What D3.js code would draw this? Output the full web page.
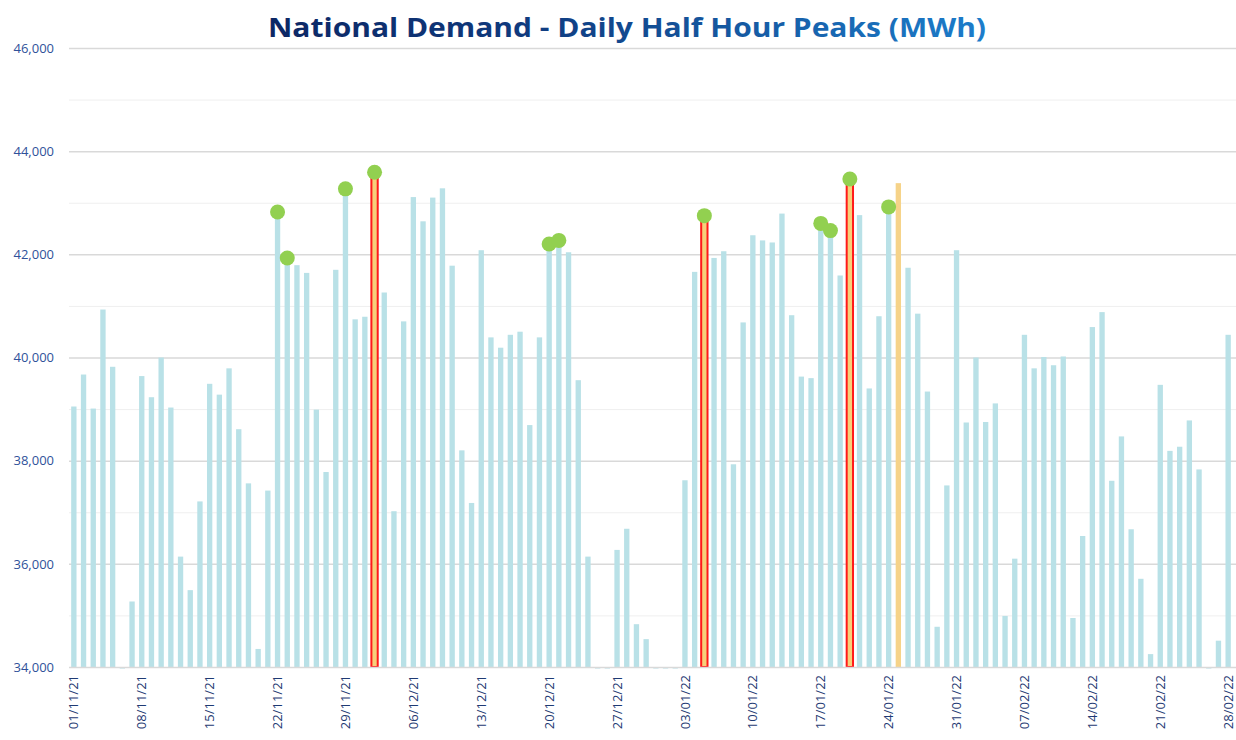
<!DOCTYPE html>
<html>
<head>
<meta charset="utf-8">
<script src="https://cdn.jsdelivr.net/npm/d3@7"></script>
<style>
  body { margin: 0; background: #fff; }
  svg { display: block; font-family: "Open Sans", sans-serif; }
</style>
</head>
<body>
<svg id="chart" width="1236" height="740"></svg>
<script>
// daily half hour peak, 01/11/21 .. 28/02/22 (MWh)
const peaks = [
  39050, 39670, 39010, 40930, 39820, 33970, 35270, 39640, 39230, 40000,
  39030, 36140, 35490, 37210, 39490, 39280, 39790, 38610, 37560, 34350,
  37420, 42820, 41930, 41790, 41640, 38990, 37780, 41700, 43270, 40740,
  40790, 43590, 41260, 37020, 40700, 43110, 42640, 43100, 43280, 41780,
  38200, 37180, 42080, 40390, 40190, 40440, 40500, 38690, 40390, 42200,
  42270, 42040, 39560, 36140, 33970, 33970, 36270, 36680, 34830, 34540,
  33970, 33970, 33970, 37620, 41660, 42750, 41930, 42060, 37930, 40680,
  42370, 42270, 42230, 42790, 40820, 39630, 39600, 42600, 42460, 41590,
  43460, 42760, 39400, 40800, 42920, 43380, 41740, 40850, 39340, 34780,
  37520, 42080, 38740, 40000, 38750, 39110, 34990, 36100, 40440, 39790,
  40010, 39850, 40020, 34950, 36540, 40590, 40880, 37610, 38470, 36670,
  35710, 34250, 39470, 38190, 38270, 38780, 37830, 33970, 34510, 40440
];
const recordDays = ["02/12/21", "05/01/22", "20/01/22"];
const markedDays = ["22/11/21", "23/11/21", "29/11/21", "02/12/21", "20/12/21", "21/12/21",
  "05/01/22", "17/01/22", "18/01/22", "20/01/22", "24/01/22"];
const latestDay = ["25/01/22"];
const yTicks = [34000, 36000, 38000, 40000, 42000, 44000, 46000];

const fmt = d3.timeFormat("%d/%m/%y");
const days = d3.timeDay.range(new Date(2021, 10, 1), new Date(2022, 2, 1)).map(fmt);
const data = days.map((d, i) => ({ day: d, value: peaks[i] }));

const svg = d3.select("#chart");
const width = 1236;

const x = d3.scaleBand()
  .domain(days)
  .range([69, 1233])
  .paddingInner(0.45)
  .paddingOuter(0.225);

const y = d3.scaleLinear()
  .domain([34000, 46000])
  .range([667, 48]);

// title with the blue shading
const grad = svg.append("defs").append("linearGradient")
  .attr("id", "titleGrad")
  .attr("gradientUnits", "userSpaceOnUse")
  .attr("x1", 270).attr("x2", 985).attr("y1", 0).attr("y2", 0);
grad.append("stop").attr("offset", "0%").attr("stop-color", "#0c2764");
grad.append("stop").attr("offset", "35%").attr("stop-color", "#0f3a7e");
grad.append("stop").attr("offset", "100%").attr("stop-color", "#1c7dcb");

svg.append("text")
  .attr("x", 627)
  .attr("y", 37)
  .attr("text-anchor", "middle")
  .attr("font-size", 27)
  .attr("font-weight", 700)
  .attr("textLength", 718)
  .attr("lengthAdjust", "spacingAndGlyphs")
  .attr("fill", "url(#titleGrad)")
  .text("National Demand - Daily Half Hour Peaks (MWh)");

// grid lines, every 1000 with the labelled ones a little darker
const gridVals = d3.range(35000, 46001, 1000);
svg.append("g")
  .selectAll("line")
  .data(gridVals)
  .join("line")
  .attr("x1", 69)
  .attr("x2", width)
  .attr("y1", d => y(d) + 0.5)
  .attr("y2", d => y(d) + 0.5)
  .attr("stroke", d => d % 2000 === 0 ? "#d9d9d9" : "#efefef")
  .attr("stroke-width", d => d % 2000 === 0 ? 1.5 : 1);

// y axis labels
const yAxis = svg.append("g")
  .attr("transform", "translate(62,0)")
  .call(d3.axisLeft(y).tickValues(yTicks).tickFormat(d3.format(",")).tickSize(0).tickPadding(8));
yAxis.select(".domain").remove();
yAxis.selectAll("text")
  .attr("font-family", "Open Sans, sans-serif")
  .attr("font-size", 13)
  .attr("fill", "#2f529a");

// bars
const base = y(34000);
svg.append("g")
  .selectAll("rect")
  .data(data.filter(d => !recordDays.includes(d.day) && !latestDay.includes(d.day)))
  .join("rect")
  .attr("x", d => x(d.day))
  .attr("width", x.bandwidth())
  .attr("y", d => Math.min(y(d.value), base))
  .attr("height", d => Math.abs(base - y(d.value)))
  .attr("fill", "#b9e1e7");

svg.append("g")
  .selectAll("rect")
  .data(data.filter(d => latestDay.includes(d.day)))
  .join("rect")
  .attr("x", d => x(d.day))
  .attr("width", x.bandwidth())
  .attr("y", d => y(d.value))
  .attr("height", d => base - y(d.value))
  .attr("fill", "#f6d389");

svg.append("g")
  .selectAll("rect")
  .data(data.filter(d => recordDays.includes(d.day)))
  .join("rect")
  .attr("x", d => x(d.day) - 0.5)
  .attr("width", x.bandwidth() + 1)
  .attr("y", d => y(d.value))
  .attr("height", d => base - y(d.value))
  .attr("fill", "#f7cf7a")
  .attr("stroke", "#ff1a1a")
  .attr("stroke-width", 2);

// axis line at the bottom
svg.append("line")
  .attr("x1", 69).attr("x2", width)
  .attr("y1", base + 0.5).attr("y2", base + 0.5)
  .attr("stroke", "#d9d9d9")
  .attr("stroke-width", 1.5);

// green markers on the high days
svg.append("g")
  .selectAll("circle")
  .data(data.filter(d => markedDays.includes(d.day)))
  .join("circle")
  .attr("cx", d => x(d.day) + x.bandwidth() / 2)
  .attr("cy", d => y(d.value))
  .attr("r", 7.5)
  .attr("fill", "#92d050");

// x axis, weekly labels read bottom to top
const weekly = days.filter((d, i) => i % 7 === 0 || i === days.length - 1);
const xAxis = svg.append("g")
  .attr("transform", `translate(0,${base})`)
  .call(d3.axisBottom(x).tickValues(weekly).tickSize(0).tickPadding(0));
xAxis.select(".domain").remove();
xAxis.selectAll("text")
  .attr("font-family", "Open Sans, sans-serif")
  .attr("font-size", 13)
  .attr("fill", "#1f3a73")
  .attr("text-anchor", "end")
  .attr("dy", "0.35em")
  .attr("transform", "translate(0,8) rotate(-90)")
  .attr("x", 0)
  .attr("y", 0);
</script>
</body>
</html>
